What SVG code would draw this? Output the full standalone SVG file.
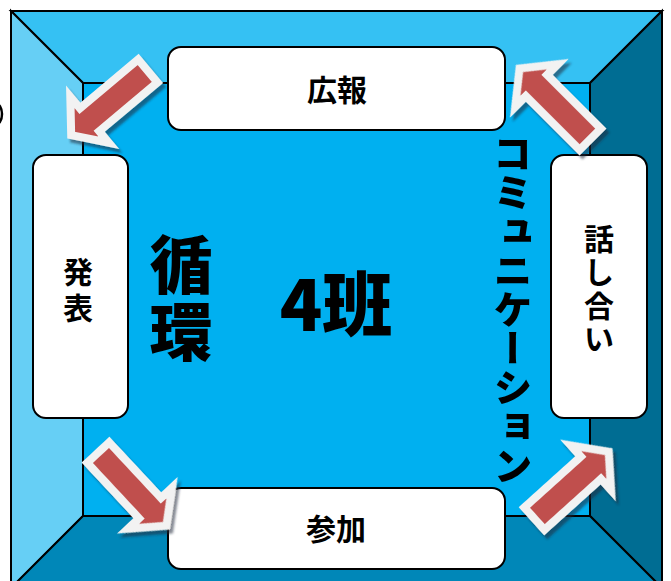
<svg xmlns="http://www.w3.org/2000/svg" width="671" height="581" viewBox="0 0 671 581">
  <style>
    .edge { stroke: #000; stroke-width: 2; stroke-linejoin: miter; }
    .box { fill: #fff; stroke: #000; stroke-width: 2; }
    .lbl { font-family: "Noto Sans CJK JP", "Noto Sans", sans-serif; font-weight: 700; font-size: 30px; fill: #000; text-anchor: middle; dominant-baseline: central; }
    .big { font-family: "Noto Sans CJK JP", "Noto Sans", sans-serif; font-weight: 900; fill: #000; text-anchor: middle; dominant-baseline: central; }
    .arrow { fill: #C0504D; stroke: #F2F2F2; stroke-width: 8; stroke-linejoin: miter; stroke-miterlimit: 6; }
  </style>
  <defs>
    <filter id="shadow" x="-30%" y="-30%" width="160%" height="160%">
      <feDropShadow dx="3" dy="4" stdDeviation="1" flood-color="#1a2a3a" flood-opacity="0.55"/>
    </filter>
    <polygon id="arr" points="0,0 -24,-30 -24,-15 -100,-15 -100,15 -24,15 -24,30"/>
  </defs>
  <rect width="671" height="581" fill="#fff"/>
  <path d="M -5 103 A 7 11 0 0 1 -5 125" fill="none" stroke="#000" stroke-width="2.5"/>
  <g id="frame">
    <polygon points="11,11 662,11 590,83 83,83" fill="#35C1F3" class="edge"/>
    <polygon points="11,11 83,83 83,516 11,588" fill="#66CFF5" class="edge"/>
    <polygon points="662,11 662,588 590,516 590,83" fill="#006D93" class="edge"/>
    <polygon points="11,588 83,516 590,516 662,588" fill="#0087B8" class="edge"/>
    <rect x="83" y="83" width="507" height="433" fill="#00B0F0" class="edge"/>
  </g>
  <g id="node-kouhou">
    <rect class="box" x="168" y="47" width="337" height="83" rx="13"/>
    <text class="lbl" x="337" y="88">広報</text>
  </g>
  <g id="node-happyou">
    <rect class="box" x="33" y="155" width="95" height="263" rx="13"/>
    <text class="lbl" x="78" y="270">発</text>
    <text class="lbl" x="78" y="306">表</text>
  </g>
  <g id="node-sanka">
    <rect class="box" x="168" y="488" width="337" height="81" rx="13"/>
    <text class="lbl" x="336" y="527">参加</text>
  </g>
  <g id="node-hanashiai">
    <rect class="box" x="551" y="155" width="96" height="263" rx="13"/>
    <text class="lbl" x="599" y="237" font-size="29">話</text>
    <text class="lbl" x="599" y="270" font-size="29">し</text>
    <text class="lbl" x="599" y="304" font-size="29">合</text>
    <text class="lbl" x="599" y="337" font-size="29">い</text>
  </g>
  <g id="connectors" filter="url(#shadow)">
    <use href="#arr" class="arrow" transform="translate(71.2 135.2) rotate(140)"/>
    <use href="#arr" class="arrow" transform="translate(519.5 68.5) rotate(225)"/>
    <use href="#arr" class="arrow" transform="translate(166.4 525.7) rotate(47)"/>
    <use href="#arr" class="arrow" transform="translate(608.7 451.7) rotate(-42)"/>
  </g>
  <g id="labels">
    <text class="big" x="181" y="260" font-size="63">循</text>
    <text class="big" x="181" y="327" font-size="63">環</text>
    <text class="big" x="336" y="300" font-size="70">4班</text>
    <text class="big" x="513" y="134" font-size="39" style="writing-mode: vertical-rl; text-anchor: start;">コミュニケーション</text>
  </g>
</svg>
